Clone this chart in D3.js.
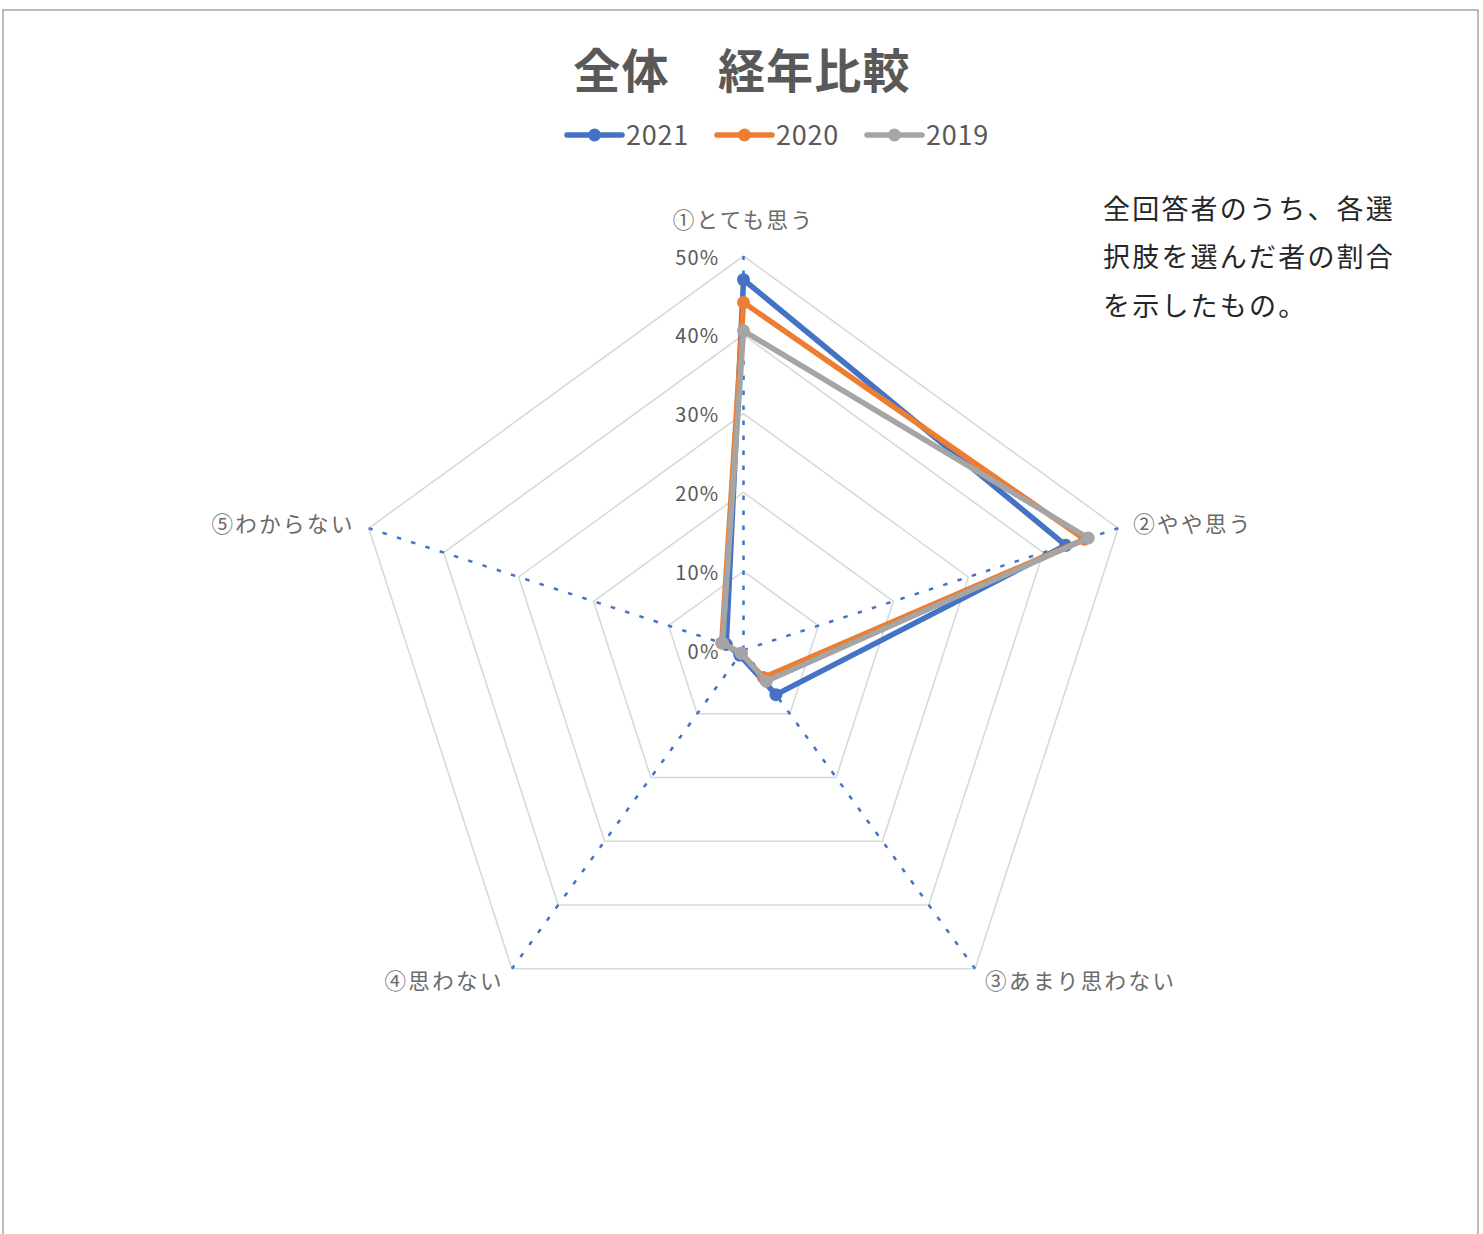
<!DOCTYPE html>
<html lang="ja">
<head>
<meta charset="utf-8">
<title>全体　経年比較</title>
<script src="https://cdn.jsdelivr.net/npm/d3@7"></script>
<style>
  html, body { margin: 0; padding: 0; background: #fff; }
  svg { display: block; font-family: "Noto Sans CJK JP", "Noto Sans", sans-serif; }
</style>
</head>
<body>
<svg id="chart" width="1483" height="1234"></svg>
<script>
// Categories (radar axes, clockwise from top)
const categories = ["①とても思う", "②やや思う", "③あまり思わない", "④思わない", "⑤わからない"];
// Share of respondents per answer, by survey year
const seriesNames = ["2021", "2020", "2019"];
const values2021 = [0.470, 0.430, 0.070, 0.008, 0.023];
const values2020 = [0.441, 0.455, 0.043, 0.005, 0.029];
const values2019 = [0.405, 0.460, 0.049, 0.005, 0.028];
const seriesColors = ["#4472C4", "#ED7D31", "#A5A5A5"];
// Radial axis ticks
const tickValues = [0, 0.1, 0.2, 0.3, 0.4, 0.5];
const tickLabels = ["0%", "10%", "20%", "30%", "40%", "50%"];
const titleText = "全体　経年比較";
const noteLines = ["全回答者のうち、各選", "択肢を選んだ者の割合", "を示したもの。"];

const series = seriesNames.map((name, i) => ({
  name,
  color: seriesColors[i],
  values: [values2021, values2020, values2019][i]
}));

const svg = d3.select("#chart");
const W = 1483, H = 1234;
const cx = 743.5, cy = 650, R = 394;

// Chart area frame
svg.append("path")
  .attr("d", `M3,${H} L3,10 L1478,10 L1478,${H}`)
  .attr("fill", "none")
  .attr("stroke", "#A6A6A6")
  .attr("stroke-width", 1.5);

const r = d3.scaleLinear().domain([0, 0.5]).range([0, R]);
const angle = d3.scalePoint().domain(d3.range(categories.length + 1)).range([0, 2 * Math.PI]);
const a = i => angle(i);
const px = (i, v) => cx + r(v) * Math.sin(a(i));
const py = (i, v) => cy - r(v) * Math.cos(a(i));

const g = svg.append("g");

// Pentagonal gridlines
const ringLine = d3.lineRadial()
  .angle((d, i) => a(i))
  .radius(d => r(d))
  .curve(d3.curveLinearClosed);
g.append("g").attr("transform", `translate(${cx},${cy})`)
  .selectAll("path.ring")
  .data(tickValues.slice(1))
  .join("path")
  .attr("class", "ring")
  .attr("d", t => ringLine(categories.map(() => t)))
  .attr("fill", "none")
  .attr("stroke", "#D9D9D9")
  .attr("stroke-width", 1.6);

// Dotted spokes
g.selectAll("line.spoke")
  .data(categories)
  .join("line")
  .attr("class", "spoke")
  .attr("x1", cx).attr("y1", cy)
  .attr("x2", (d, i) => px(i, 0.5))
  .attr("y2", (d, i) => py(i, 0.5))
  .attr("stroke", "#4472C4")
  .attr("stroke-width", 2.5)
  .attr("stroke-dasharray", "4.5 10.5");

// Radial tick labels along the top spoke
g.selectAll("text.tick")
  .data(tickValues)
  .join("text")
  .attr("class", "tick")
  .attr("x", cx - 24)
  .attr("y", t => cy - r(t))
  .attr("text-anchor", "end")
  .attr("dominant-baseline", "central")
  .attr("font-size", 20)
  .attr("letter-spacing", 1.2)
  .attr("fill", "#595959")
  .text((t, i) => tickLabels[i]);

// Category labels around the outer ring
const labelPlace = [
  { anchor: "middle", dx: 0, dy: -38 },
  { anchor: "start", dx: 15, dy: -6 },
  { anchor: "start", dx: 10, dy: 11 },
  { anchor: "end", dx: -8, dy: 11 },
  { anchor: "end", dx: -14, dy: -6 }
];
g.selectAll("text.cat")
  .data(categories)
  .join("text")
  .attr("class", "cat")
  .attr("x", (d, i) => px(i, 0.5) + labelPlace[i].dx)
  .attr("y", (d, i) => py(i, 0.5) + labelPlace[i].dy)
  .attr("text-anchor", (d, i) => labelPlace[i].anchor)
  .attr("dominant-baseline", "central")
  .attr("font-size", 21.5)
  .attr("letter-spacing", 2.4)
  .attr("fill", "#6A6A6A")
  .text(d => d);

// Series polygons with markers
const seriesLine = d3.lineRadial()
  .angle((d, i) => a(i))
  .radius(d => r(d))
  .curve(d3.curveLinearClosed);
const sg = g.selectAll("g.series")
  .data(series)
  .join("g")
  .attr("class", "series")
  .attr("transform", `translate(${cx},${cy})`);
sg.append("path")
  .attr("d", s => seriesLine(s.values))
  .attr("fill", "none")
  .attr("stroke", s => s.color)
  .attr("stroke-width", 5.5)
  .attr("stroke-linejoin", "round");
sg.selectAll("circle")
  .data(s => s.values.map((v, i) => ({ v, i, color: s.color })))
  .join("circle")
  .attr("cx", d => r(d.v) * Math.sin(a(d.i)))
  .attr("cy", d => -r(d.v) * Math.cos(a(d.i)))
  .attr("r", 6.5)
  .attr("fill", d => d.color);

// Title
svg.append("text")
  .attr("x", 742)
  .attr("y", 67)
  .attr("text-anchor", "middle")
  .attr("dominant-baseline", "central")
  .attr("font-size", 47)
  .attr("letter-spacing", 1.2)
  .attr("font-weight", "bold")
  .attr("fill", "#595959")
  .text(titleText);

// Legend
const legendX = [567, 717, 867];
const lg = svg.selectAll("g.legend")
  .data(series)
  .join("g")
  .attr("class", "legend")
  .attr("transform", (s, i) => `translate(${legendX[i]},135)`);
lg.append("line")
  .attr("x1", 0).attr("x2", 55)
  .attr("y1", 0).attr("y2", 0)
  .attr("stroke", s => s.color)
  .attr("stroke-width", 5.5)
  .attr("stroke-linecap", "round");
lg.append("circle")
  .attr("cx", 27.5).attr("cy", 0)
  .attr("r", 6.5)
  .attr("fill", s => s.color);
lg.append("text")
  .attr("x", 59)
  .attr("y", -2)
  .attr("dominant-baseline", "central")
  .attr("font-size", 27)
  .attr("letter-spacing", 0.8)
  .attr("fill", "#595959")
  .text(s => s.name);

// Explanatory note
svg.append("g")
  .selectAll("text")
  .data(noteLines)
  .join("text")
  .attr("x", 1103)
  .attr("y", (d, i) => 207 + i * 48.5)
  .attr("dominant-baseline", "central")
  .attr("font-size", 27)
  .attr("letter-spacing", 2.2)
  .attr("fill", "#262626")
  .text(d => d);
</script>
</body>
</html>
